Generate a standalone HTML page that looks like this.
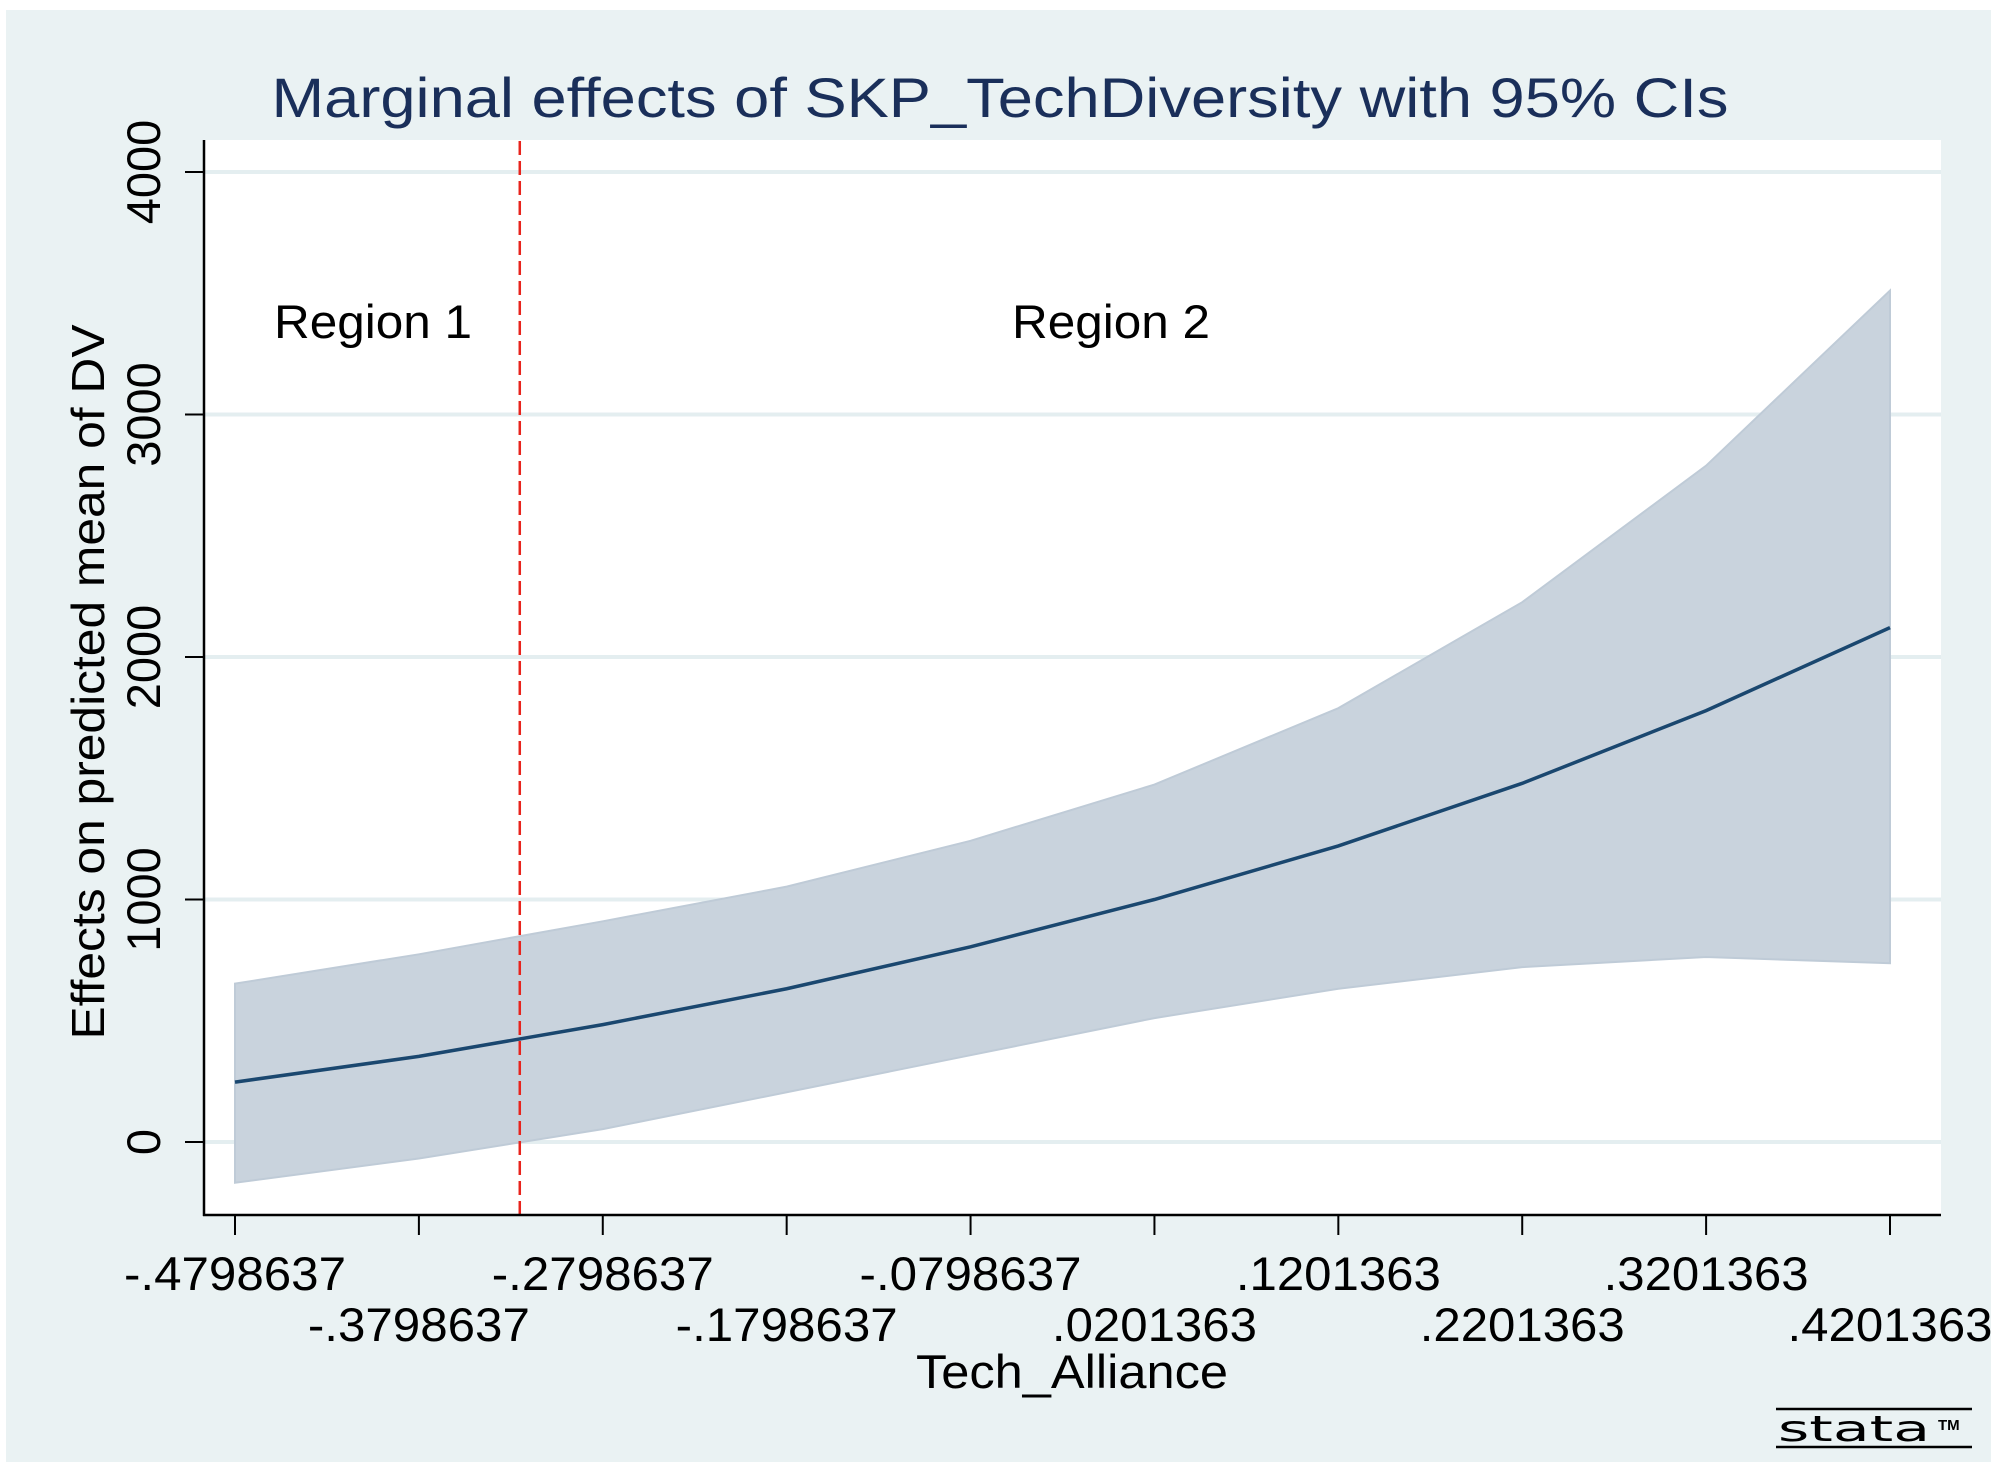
<!DOCTYPE html>
<html><head><meta charset="utf-8"><style>
html,body{margin:0;padding:0;background:#fff}
svg{display:block;font-family:"Liberation Sans",Arial,sans-serif}
</style></head><body>
<svg id="chart" width="2000" height="1467" viewBox="0 0 2000 1467">
<rect x="6" y="10" width="1985" height="1452" fill="#eaf2f3"/>
<rect x="204" y="140" width="1737" height="1075" fill="#ffffff"/>
<g id="grid"></g>
<g id="series"></g>
<g id="axes"></g>
<text x="1000" y="117" text-anchor="middle" font-size="56" fill="#1a2f5a" textLength="1457" lengthAdjust="spacingAndGlyphs">Marginal effects of SKP_TechDiversity with 95% CIs</text>
<text transform="translate(104,682) rotate(-90)" text-anchor="middle" font-size="46" fill="#000" textLength="715" lengthAdjust="spacingAndGlyphs">Effects on predicted mean of DV</text>
<text x="1072" y="1388" text-anchor="middle" font-size="47" fill="#000" textLength="312" lengthAdjust="spacingAndGlyphs">Tech_Alliance</text>
<text x="274" y="338" font-size="47" fill="#000" textLength="198" lengthAdjust="spacingAndGlyphs">Region 1</text>
<text x="1012" y="338" font-size="47" fill="#000" textLength="198" lengthAdjust="spacingAndGlyphs">Region 2</text>
<g>
<line x1="1776" y1="1409" x2="1972" y2="1409" stroke="#000" stroke-width="2.5"/>
<line x1="1776" y1="1447" x2="1972" y2="1447" stroke="#000" stroke-width="2.5"/>
<text x="1778" y="1441" font-size="36" fill="#000" textLength="152" lengthAdjust="spacingAndGlyphs" font-family="DejaVu Sans, sans-serif">stata</text>
<text x="1938" y="1430" font-size="15" fill="#000" font-weight="bold">TM</text>
</g>
</svg>
<script>
const xTicks = [-0.4798637,-0.3798637,-0.2798637,-0.1798637,-0.0798637,0.0201363,0.1201363,0.2201363,0.3201363,0.4201363];
const xTickLabels = ["-.4798637","-.3798637","-.2798637","-.1798637","-.0798637",".0201363",".1201363",".2201363",".3201363",".4201363"];
const yTicks = [0,1000,2000,3000,4000];
const yTickLabels = ["0","1000","2000","3000","4000"];
const xValues = [-0.4798637,-0.3798637,-0.2798637,-0.1798637,-0.0798637,0.0201363,0.1201363,0.2201363,0.3201363,0.4201363];
const effect = [247,353,484,632,805,1000,1221,1479,1779,2121];
const upperCI = [653,774,910,1053,1242,1474,1789,2226,2789,3511];
const lowerCI = [-168,-68,53,205,358,511,632,721,763,737];
const cutoff = -0.325;

const NS='http://www.w3.org/2000/svg';
const X0=235, X1=1890, Y0=1142, Y4000=172;
function sx(v){return X0+(v-xTicks[0])/(xTicks[xTicks.length-1]-xTicks[0])*(X1-X0);}
function sy(v){return Y0-(v/4000)*(Y0-Y4000);}
function mk(tag,attrs,parent){const e=document.createElementNS(NS,tag);for(const k in attrs)e.setAttribute(k,attrs[k]);parent.appendChild(e);return e;}
const grid=document.getElementById('grid'), series=document.getElementById('series'), axes=document.getElementById('axes');

yTicks.forEach((t,i)=>{
  const g=mk('line',{x1:205,x2:1941,y1:sy(t),y2:sy(t),stroke:'#e4eef0','stroke-width':4},grid);
  
  
  const tk=mk('line',{x1:185,x2:204,y1:sy(t),y2:sy(t),stroke:'#000','stroke-width':2},axes);
  
  
  const lb=mk('text',{transform:`translate(160,${sy(t)}) rotate(-90)`,'text-anchor':'middle','font-size':47,fill:'#000'},axes);
  lb.textContent=yTickLabels[i];
  
  
});

let d='M'+xValues.map((x,i)=>sx(x)+','+sy(upperCI[i])).join(' L');
for(let i=xValues.length-1;i>=0;i--) d+=' L'+sx(xValues[i])+','+sy(lowerCI[i]);
d+=' Z';
const band=mk('path',{d:d,fill:'#c9d3dd',stroke:'#bfcbd7','stroke-width':2},series);



const ln=mk('polyline',{points:xValues.map((x,i)=>sx(x)+','+sy(effect[i])).join(' '),fill:'none',stroke:'#1a476f','stroke-width':3.5},series);



const cut=mk('line',{x1:sx(cutoff),x2:sx(cutoff),y1:141,y2:1215,stroke:'#e8231c','stroke-width':2.5,'stroke-dasharray':'14 6'},series);



const ya=mk('line',{x1:204,x2:204,y1:140,y2:1216,stroke:'#000','stroke-width':2.5},axes);


const xa=mk('line',{x1:203,x2:1941,y1:1215,y2:1215,stroke:'#000','stroke-width':2.5},axes);



xTicks.forEach((t,i)=>{
  const tk=mk('line',{x1:sx(t),x2:sx(t),y1:1215,y2:1235,stroke:'#000','stroke-width':2},axes);
  
  
  const lb=mk('text',{x:sx(t),y:(i%2===0)?1290:1341,'text-anchor':'middle','font-size':47,fill:'#000',textLength:(xTickLabels[i][0]==='-')?222:205,lengthAdjust:'spacingAndGlyphs'},axes);
  lb.textContent=xTickLabels[i];
  
  
});
</script>
</body></html>
